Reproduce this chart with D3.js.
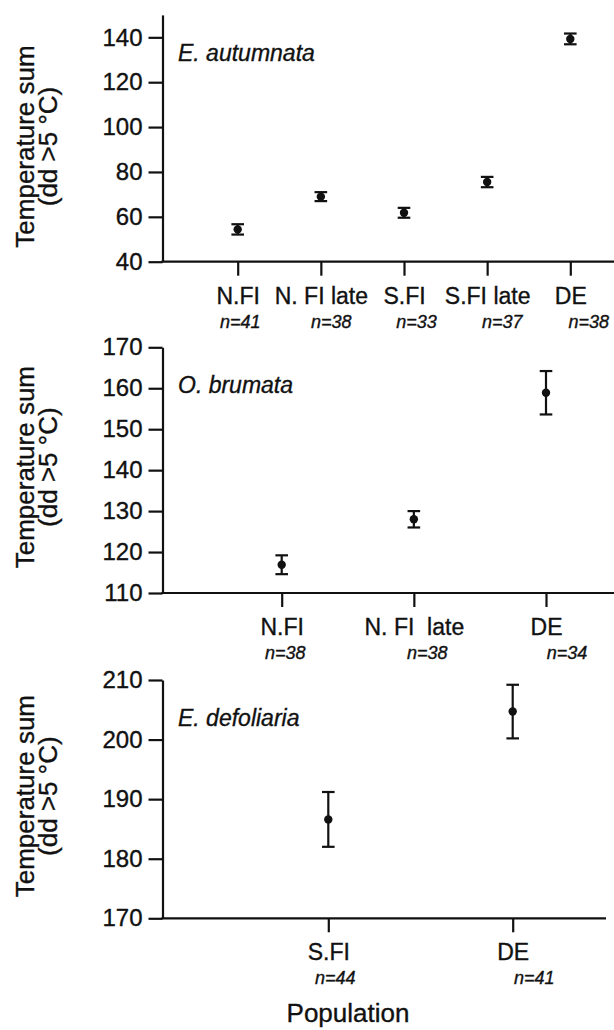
<!DOCTYPE html>
<html>
<head>
<meta charset="utf-8">
<script src="https://cdn.jsdelivr.net/npm/d3@7"></script>
<style>
  html, body { margin: 0; padding: 0; background: #fff; }
  svg { display: block; font-family: "Liberation Sans", Arial, sans-serif; }
  text { white-space: pre; stroke: #111; stroke-width: 0.35px; }
</style>
</head>
<body>
<div id="chart"></div>
<script>
// --- data ---
const autumnataCats = ['N.FI', 'N. FI late', 'S.FI', 'S.FI late', 'DE'];
const autumnataN = [41, 38, 33, 37, 38];
const autumnataMean = [54.4, 69.0, 61.8, 75.5, 139.3];
const autumnataErr = [2.3, 2.0, 2.2, 2.3, 2.4];
const autumnataTicks = [40, 60, 80, 100, 120, 140];

const brumataCats = ['N.FI', 'N. FI  late', 'DE'];
const brumataN = [38, 38, 34];
const brumataMean = [116.9, 128.0, 158.9];
const brumataErr = [2.3, 2.0, 5.3];
const brumataTicks = [110, 120, 130, 140, 150, 160, 170];

const defoliariaCats = ['S.FI', 'DE'];
const defoliariaN = [44, 41];
const defoliariaMean = [186.6, 204.7];
const defoliariaErr = [4.6, 4.5];
const defoliariaTicks = [170, 180, 190, 200, 210];

// --- layout ---
const W = 614, H = 1030;
const AXIS_X = 162.5;
const INK = '#111';

const panels = [
    { species: 'E. autumnata', cats: autumnataCats, n: autumnataN, mean: autumnataMean, err: autumnataErr,
      ticks: autumnataTicks, domain: [40, 150], yRange: [261.7, 14.9], xRange: [237.7, 570.3],
      axisEnd: 614, nShift: [2, 10, 12, 14.5, 18] },
    { species: 'O. brumata', cats: brumataCats, n: brumataN, mean: brumataMean, err: brumataErr,
      ticks: brumataTicks, domain: [110, 170], yRange: [593, 347.3], xRange: [281.7, 546],
      axisEnd: 614, nShift: [3, 13, 20.5] },
    { species: 'E. defoliaria', cats: defoliariaCats, n: defoliariaN, mean: defoliariaMean, err: defoliariaErr,
      ticks: defoliariaTicks, domain: [170, 210], yRange: [918.3, 680], xRange: [328.3, 512.7],
      axisEnd: 606, nShift: [6.5, 21] }
];

const svg = d3.select('#chart').append('svg')
    .attr('width', W)
    .attr('height', H);

function drawPanel(p) {
    const y = d3.scaleLinear().domain(p.domain).range(p.yRange);
    const x = d3.scalePoint().domain(p.cats).range(p.xRange);
    const g = svg.append('g');
    const y0 = y(p.domain[0]);

    // y axis
    const yAxis = g.append('g')
        .attr('transform', `translate(${AXIS_X},0)`)
        .call(d3.axisLeft(y).tickValues(p.ticks).tickSize(14).tickSizeOuter(0).tickPadding(6));
    yAxis.attr('color', INK).attr('font-family', null).attr('font-size', null);
    yAxis.selectAll('path, line').attr('stroke-width', 2.2);
    yAxis.selectAll('text').attr('font-size', 24).attr('fill', INK);

    // x axis line
    g.append('line')
        .attr('x1', AXIS_X - 1.1).attr('x2', p.axisEnd)
        .attr('y1', y0).attr('y2', y0)
        .attr('stroke', INK).attr('stroke-width', 2.2);

    const xAxis = g.append('g')
        .attr('transform', `translate(0,${y0})`)
        .call(d3.axisBottom(x).tickSize(14).tickSizeOuter(0));
    xAxis.attr('color', INK).attr('font-family', null).attr('font-size', null);
    xAxis.select('.domain').remove();
    xAxis.selectAll('line').attr('stroke-width', 2.2);
    xAxis.selectAll('text')
        .attr('y', 42).attr('dy', null)
        .attr('font-size', 23).attr('fill', INK);
    xAxis.selectAll('.tick').append('text')
        .attr('x', (d, i) => p.nShift[i])
        .attr('y', 66)
        .attr('text-anchor', 'middle')
        .attr('font-size', 18)
        .attr('font-style', 'italic')
        .attr('fill', INK)
        .text((d, i) => `n=${p.n[i]}`);

    // species label
    g.append('text')
        .attr('x', 178)
        .attr('y', p.yRange[1] + 46)
        .attr('font-size', 23)
        .attr('font-style', 'italic')
        .attr('fill', INK)
        .text(p.species);

    // y title
    const yc = (y(p.ticks[0]) + y(p.ticks[p.ticks.length - 1])) / 2 - 3;
    const title = g.append('g').attr('fill', INK).attr('font-size', 26).attr('text-anchor', 'middle');
    title.append('text')
        .attr('transform', `translate(34,${yc}) rotate(-90)`)
        .text('Temperature sum');
    title.append('text')
        .attr('transform', `translate(57,${yc}) rotate(-90)`)
        .text('(dd >5 °C)');

    // error bars + means
    const pts = p.cats.map((c, i) => ({ cat: c, mean: p.mean[i], err: p.err[i] }));
    const bars = g.append('g').attr('stroke', INK).attr('stroke-width', 2.2);
    bars.selectAll('line.v').data(pts).join('line')
        .attr('class', 'v')
        .attr('x1', d => x(d.cat)).attr('x2', d => x(d.cat))
        .attr('y1', d => y(d.mean - d.err)).attr('y2', d => y(d.mean + d.err));
    bars.selectAll('line.hi').data(pts).join('line')
        .attr('class', 'hi')
        .attr('x1', d => x(d.cat) - 6.3).attr('x2', d => x(d.cat) + 6.3)
        .attr('y1', d => y(d.mean + d.err)).attr('y2', d => y(d.mean + d.err));
    bars.selectAll('line.lo').data(pts).join('line')
        .attr('class', 'lo')
        .attr('x1', d => x(d.cat) - 6.3).attr('x2', d => x(d.cat) + 6.3)
        .attr('y1', d => y(d.mean - d.err)).attr('y2', d => y(d.mean - d.err));
    g.append('g').selectAll('circle').data(pts).join('circle')
        .attr('cx', d => x(d.cat))
        .attr('cy', d => y(d.mean))
        .attr('r', 4.2)
        .attr('fill', INK);
}

panels.forEach(drawPanel);

svg.append('text')
    .attr('x', 348)
    .attr('y', 1022)
    .attr('text-anchor', 'middle')
    .attr('font-size', 26)
    .attr('fill', INK)
    .text('Population');
</script>
</body>
</html>
